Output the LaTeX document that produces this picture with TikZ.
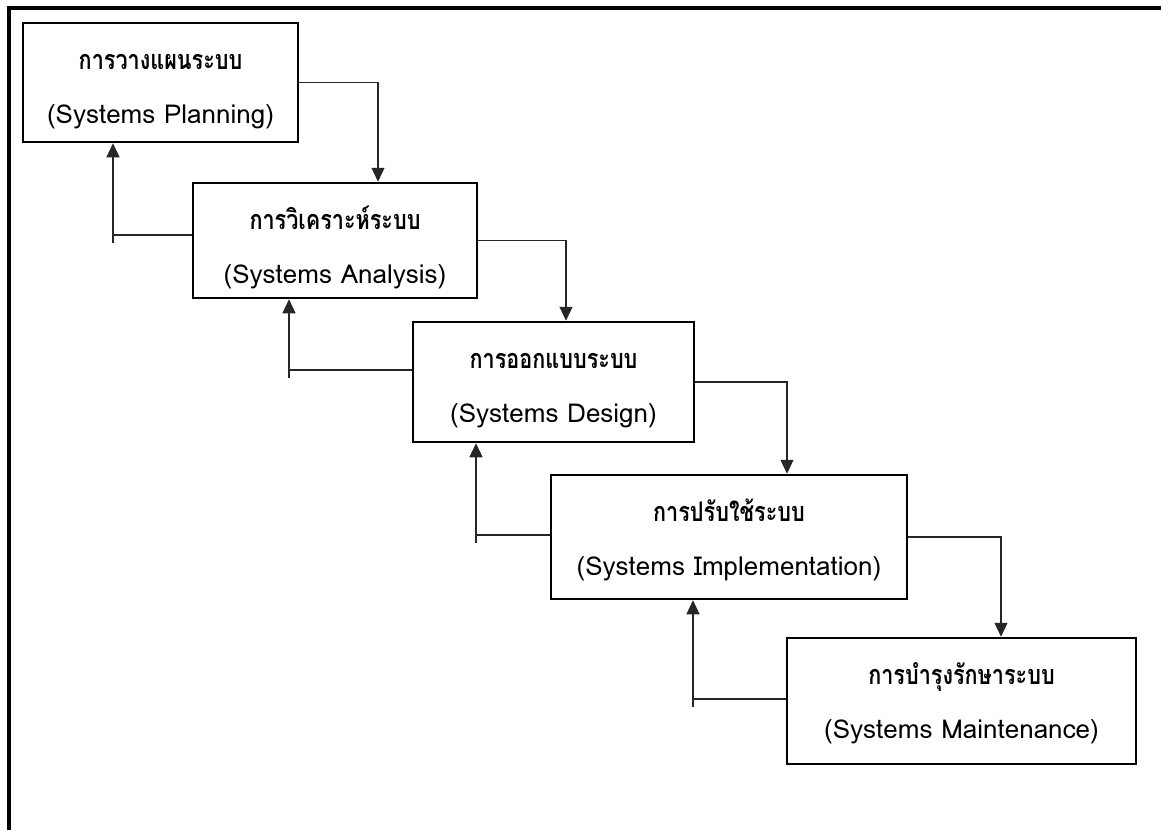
\documentclass[tikz,border=0pt]{standalone}
\usepackage{fontspec}
\usetikzlibrary{calc,arrows.meta}
\newfontfamily\thaifont[Script=Thai,FakeStretch=0.8]{Loma}
\setmainfont{Loma}
\begin{document}
\begin{tikzpicture}[x=1pt,y=-1pt,
  stage/.style={draw=black,line width=2.5pt,rectangle,inner sep=0pt},
  thline/.style={anchor=base,inner sep=0pt,font=\thaifont\bfseries\fontsize{27}{31}\selectfont},
  enline/.style={anchor=base,inner sep=0pt,font=\fontsize{26}{30}\selectfont},
  conn/.style={draw=black!85,line width=1.2pt},
  tip/.style={-{Triangle[width=13pt,length=14pt]}}]
\useasboundingbox (0,0) rectangle (1161,830);
% open frame (left and top edges)
\draw[line width=3.5pt] (9,830) -- (9,8) -- (1161,8);

% the five stages
\node[stage,minimum width=275pt,minimum height=119pt] (plan) at (160.5,82.5) {};
\node[stage,minimum width=284pt,minimum height=115pt] (ana)  at (335,240.5) {};
\node[stage,minimum width=281pt,minimum height=120pt] (des)  at (553.5,382) {};
\node[stage,minimum width=356pt,minimum height=124pt] (imp)  at (729,537) {};
\node[stage,minimum width=349pt,minimum height=126pt] (mnt)  at (961.5,701) {};

\foreach \b/\th/\en in {plan/การวางแผนระบบ/(Systems Planning),
                        ana/การวิเคราะห์ระบบ/(Systems Analysis),
                        des/การออกแบบระบบ/(Systems Design),
                        imp/การปรับใช้ระบบ/(Systems Implementation),
                        mnt/การบำรุงรักษาระบบ/(Systems Maintenance)}{
  \node[thline] (\b-th) at ($(\b.north)+(0,48)$) {\th};
  \node[enline] (\b-en) at ($(\b.north)+(0,102)$) {\en};
}

% drop points of the forward arrows
\coordinate (ana-in) at (378,0);
\coordinate (des-in) at (566,0);
\coordinate (imp-in) at (787,0);
\coordinate (mnt-in) at (1001,0);

% forward flow
\draw[conn,tip] (plan.east) -| (ana-in |- ana.north);
\draw[conn,tip] (ana.east)  -| (des-in |- des.north);
\draw[conn,tip] (des.east)  -| (imp-in |- imp.north);
\draw[conn,tip] (imp.east)  -| (mnt-in |- mnt.north);

% feedback corners
\coordinate (fb1) at (113,235);
\coordinate (fb2) at (289,370);
\coordinate (fb3) at (476,535);
\coordinate (fb4) at (693,699);

% feedback flow
\draw[conn] (ana.west |- fb1) -- (fb1);
\draw[conn,tip] ($(fb1)+(0,8)$) -- (fb1 |- plan.south);
\draw[conn] (des.west |- fb2) -- (fb2);
\draw[conn,tip] ($(fb2)+(0,8)$) -- (fb2 |- ana.south);
\draw[conn] (imp.west |- fb3) -- (fb3);
\draw[conn,tip] ($(fb3)+(0,8)$) -- (fb3 |- des.south);
\draw[conn] (mnt.west |- fb4) -- (fb4);
\draw[conn,tip] ($(fb4)+(0,8)$) -- (fb4 |- imp.south);
\end{tikzpicture}
\end{document}
